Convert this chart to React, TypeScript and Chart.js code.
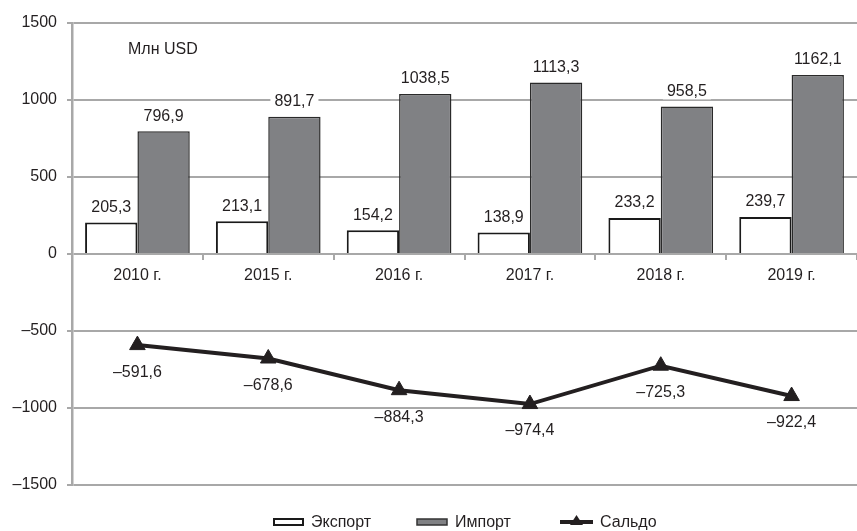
import React, { useEffect, useRef } from "react";
import { Chart, registerables } from "chart.js";

Chart.register(...registerables);

const categories = ["2010 г.", "2015 г.", "2016 г.", "2017 г.", "2018 г.", "2019 г."];
const exportValues = [205.3, 213.1, 154.2, 138.9, 233.2, 239.7];
const importValues = [796.9, 891.7, 1038.5, 1113.3, 958.5, 1162.1];
const saldoValues = [-591.6, -678.6, -884.3, -974.4, -725.3, -922.4];
const yTicks = [-1500, -1000, -500, 0, 500, 1000, 1500];
const seriesNames = ["Экспорт", "Импорт", "Сальдо"];
const unitLabel = "Млн USD";

const FONT = '"Liberation Sans", Arial, sans-serif';
const FONT_SIZE = 16;
const TEXT = "#231f20";
const GRID = "#a8a8a8";
const IMPORT_FILL = "#808184";

function fmtValue(v: number): string {
  return (v < 0 ? "–" : "") + Math.abs(v).toFixed(1).replace(".", ",");
}
function fmtTick(v: number): string {
  return v < 0 ? "–" + Math.abs(v) : String(v);
}

const labelsPlugin = {
  id: "valueLabels",
  afterDatasetsDraw(chart: any) {
    const ctx = chart.ctx as CanvasRenderingContext2D;
    ctx.save();
    ctx.font = `${FONT_SIZE}px ${FONT}`;
    ctx.textAlign = "center";
    ctx.textBaseline = "middle";
    chart.data.datasets.forEach((ds: any, di: number) => {
      const meta = chart.getDatasetMeta(di);
      meta.data.forEach((el: any, i: number) => {
        const text = fmtValue(ds.data[i]);
        const x = el.x;
        const y = ds.type === "line" ? el.y + 27 : el.y - 15;
        if (di !== 0) {
          const w = ctx.measureText(text).width;
          ctx.fillStyle = "#ffffff";
          ctx.fillRect(x - w / 2 - 4, y - 8, w + 8, 16);
        }
        ctx.fillStyle = TEXT;
        ctx.fillText(text, x, y);
      });
    });
    // unit label
    ctx.textAlign = "left";
    ctx.fillStyle = TEXT;
    ctx.fillText(unitLabel, 128, 50);

    // legend
    const ly = 522;
    ctx.fillStyle = "#ffffff";
    ctx.strokeStyle = "#1a1a1a";
    ctx.lineWidth = 2;
    ctx.fillRect(274, ly - 3, 29, 6);
    ctx.strokeRect(274, ly - 3, 29, 6);
    ctx.fillStyle = TEXT;
    ctx.fillText(seriesNames[0], 311, ly + 1);
    ctx.fillStyle = IMPORT_FILL;
    ctx.strokeStyle = "#333333";
    ctx.lineWidth = 1.5;
    ctx.fillRect(417, ly - 3, 30, 6);
    ctx.strokeRect(417, ly - 3, 30, 6);
    ctx.fillStyle = TEXT;
    ctx.fillText(seriesNames[1], 455, ly + 1);
    ctx.strokeStyle = TEXT;
    ctx.lineWidth = 4;
    ctx.beginPath();
    ctx.moveTo(560, ly);
    ctx.lineTo(593, ly);
    ctx.stroke();
    ctx.fillStyle = TEXT;
    ctx.beginPath();
    ctx.moveTo(576.5, ly - 7);
    ctx.lineTo(583, ly + 3);
    ctx.lineTo(570, ly + 3);
    ctx.closePath();
    ctx.fill();
    ctx.fillText(seriesNames[2], 600, ly + 1);
    ctx.restore();
  },
};

export default function App() {
  const canvasRef = useRef<HTMLCanvasElement | null>(null);

  useEffect(() => {
    const canvas = canvasRef.current;
    if (!canvas) return;
    const font = { family: FONT, size: FONT_SIZE };
    const chart = new Chart(canvas, {
      data: {
        labels: categories,
        datasets: [
          {
            type: "bar",
            label: seriesNames[0],
            data: exportValues,
            backgroundColor: "#ffffff",
            borderColor: "#1a1a1a",
            borderWidth: 2,
            categoryPercentage: 0.8,
            barPercentage: 1,
            order: 2,
          },
          {
            type: "bar",
            label: seriesNames[1],
            data: importValues,
            backgroundColor: IMPORT_FILL,
            borderColor: "#2a2a2a",
            borderWidth: 1.5,
            categoryPercentage: 0.8,
            barPercentage: 1,
            order: 2,
          },
          {
            type: "line",
            label: seriesNames[2],
            data: saldoValues,
            borderColor: TEXT,
            borderWidth: 4,
            pointStyle: "triangle",
            pointRadius: 9,
            pointBackgroundColor: TEXT,
            pointBorderColor: TEXT,
            pointBorderWidth: 1,
            tension: 0,
            order: 1,
          },
        ],
      } as any,
      options: {
        animation: false,
        responsive: false,
        layout: { padding: { top: 23, bottom: 46, left: 0, right: 0 } },
        plugins: { legend: { display: false }, tooltip: { enabled: false } },
        scales: {
          x: {
            position: { y: 0 } as any,
            offset: true,
            grid: {
              display: true,
              drawOnChartArea: false,
              drawTicks: true,
              tickLength: 6,
              color: GRID,
              lineWidth: 2,
              offset: true,
            },
            border: { display: false },
            ticks: { font, color: TEXT, padding: 6 },
          },
          y: {
            min: -1500,
            max: 1500,
            afterBuildTicks: (scale: any) => {
              scale.ticks = yTicks.map((v) => ({ value: v }));
            },
            afterFit: (scale: any) => {
              scale.width = 72;
            },
            grid: { color: GRID, lineWidth: 2, tickLength: 5 },
            border: { color: GRID, width: 2.5 },
            ticks: {
              font,
              color: TEXT,
              padding: 10,
              callback: (v: any) => fmtTick(Number(v)),
            },
          },
        },
      } as any,
      plugins: [labelsPlugin],
    });
    return () => chart.destroy();
  }, []);

  return (
    <div
      style={{
        position: "fixed",
        left: 0,
        top: 0,
        width: 857,
        height: 531,
        overflow: "hidden",
        background: "#ffffff",
      }}
    >
      <canvas ref={canvasRef} width={867} height={531} style={{ width: 867, height: 531, display: "block" }} />
    </div>
  );
}
